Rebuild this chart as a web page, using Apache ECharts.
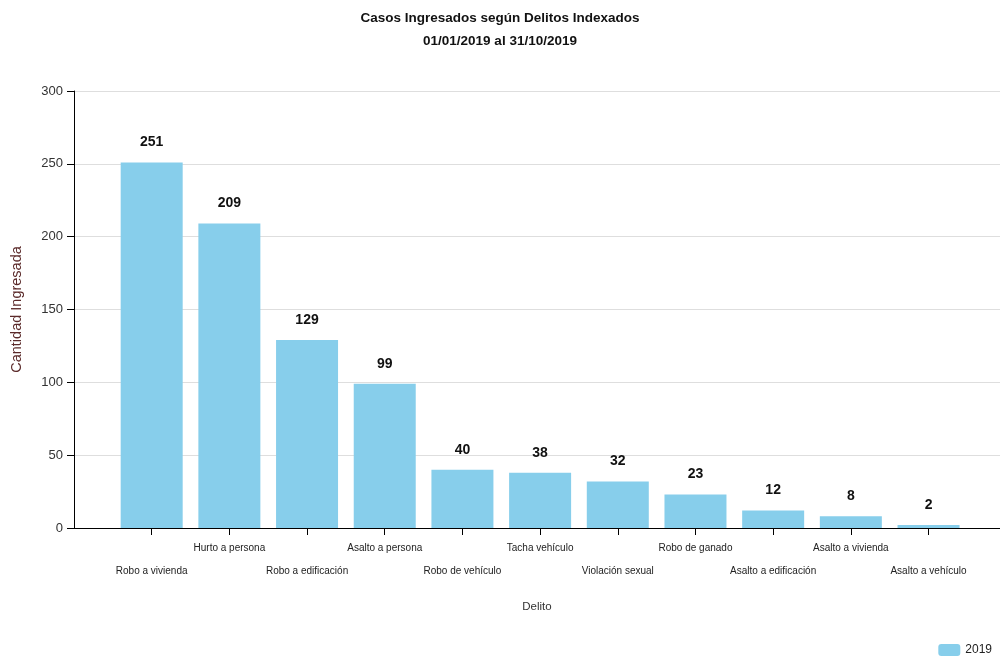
<!DOCTYPE html>
<html>
<head>
<meta charset="utf-8">
<script src="https://cdn.jsdelivr.net/npm/echarts@6/dist/echarts.min.js"></script>
<style>html,body{margin:0;padding:0;background:#fff}#c{width:1000px;height:665px}</style>
</head>
<body>
<div id="c"></div>
<script>
var titleLines = ['Casos Ingresados según Delitos Indexados', '01/01/2019 al 31/10/2019'];
var categories = ['Robo a vivienda', 'Hurto a persona', 'Robo a edificación', 'Asalto a persona', 'Robo de vehículo', 'Tacha vehículo', 'Violación sexual', 'Robo de ganado', 'Asalto a edificación', 'Asalto a vivienda', 'Asalto a vehículo'];
var values2019 = [251, 209, 129, 99, 40, 38, 32, 23, 12, 8, 2];
var yTicks = [0, 50, 100, 150, 200, 250, 300];
var seriesName = '2019';

var FONT = "'Liberation Sans',Arial,sans-serif";

var chart = echarts.init(document.getElementById('c'));
chart.setOption({
  animation: false,
  title: {
    text: titleLines.join('\n'),
    left: 'center', top: 2,
    textStyle: {fontFamily: FONT, fontSize: 13.5, fontWeight: 'bold', color: '#111', lineHeight: 23}
  },
  legend: {
    right: 3, bottom: 4,
    itemWidth: 22, itemHeight: 12, itemGap: 5,
    textStyle: {fontFamily: FONT, fontSize: 12, color: '#222'},
    data: [seriesName]
  },
  grid: {left: 74, right: 0, top: 91, bottom: 137, containLabel: false, outerBoundsMode: 'none'},
  xAxis: {
    type: 'value', min: 0, max: 11.92, interval: 1,
    name: 'Delito', nameLocation: 'middle', nameGap: 73,
    nameTextStyle: {fontFamily: FONT, fontSize: 11.5, color: '#333'},
    axisLine: {show: true, lineStyle: {color: '#000'}},
    axisTick: {show: true, length: 7, lineStyle: {color: '#000'}},
    splitLine: {show: false},
    axisLabel: {
      showMinLabel: false, showMaxLabel: false,
      margin: 9, fontFamily: FONT, fontSize: 10, color: '#222', lineHeight: 23,
      formatter: function (v) {
        var i = Math.round(v) - 1;
        if (Math.abs(v - Math.round(v)) > 1e-6 || i < 0 || i >= categories.length) return '';
        return (i % 2 === 0 ? '\n' : '') + categories[i];
      }
    }
  },
  yAxis: {
    type: 'value', min: yTicks[0], max: yTicks[yTicks.length - 1], interval: 50,
    name: 'Cantidad Ingresada', nameLocation: 'middle', nameGap: 50,
    nameTextStyle: {fontFamily: FONT, fontSize: 14.5, color: '#5b2a2a'},
    axisLine: {show: true, lineStyle: {color: '#000'}},
    axisTick: {show: true, length: 7, lineStyle: {color: '#000'}},
    axisLabel: {margin: 11, fontFamily: FONT, fontSize: 13, color: '#333'},
    splitLine: {show: true, lineStyle: {color: '#dedede'}}
  },
  series: [{
    name: seriesName, type: 'bar', barWidth: 62,
    itemStyle: {color: '#87CEEB'},
    label: {show: true, position: 'top', distance: 13, fontFamily: FONT, fontSize: 14, fontWeight: 'bold', color: '#111'},
    data: values2019.map(function (v, i) { return [i + 1, v]; })
  }]
});
</script>
</body>
</html>
